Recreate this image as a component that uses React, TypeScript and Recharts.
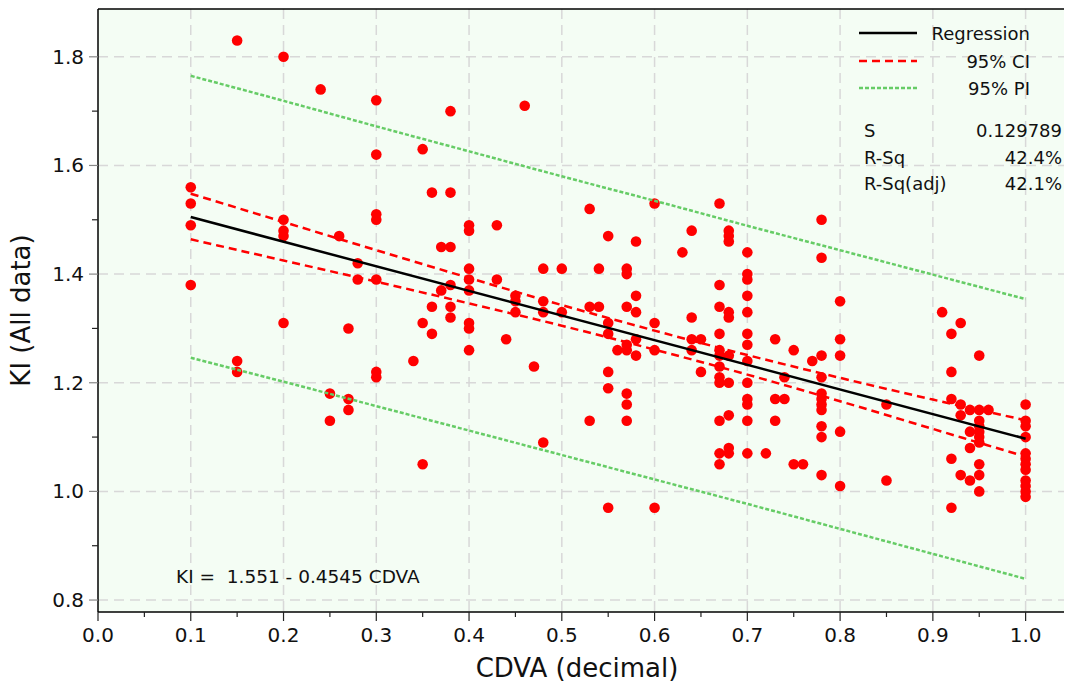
import React from "react";
import {
  ComposedChart,
  Scatter,
  XAxis,
  YAxis,
  CartesianGrid,
  ReferenceLine,
} from "recharts";

// CDVA levels that carry observations, and the KI values seen at each level
const cdvaLevels = [
  0.1, 0.15, 0.2, 0.24, 0.25, 0.26, 0.27, 0.28, 0.3, 0.34, 0.35, 0.36, 0.37,
  0.38, 0.4, 0.43, 0.44, 0.45, 0.46, 0.47, 0.48, 0.5, 0.53, 0.54, 0.55, 0.56,
  0.57, 0.58, 0.6, 0.63, 0.64, 0.65, 0.67, 0.68, 0.7, 0.72, 0.73, 0.74, 0.75,
  0.76, 0.77, 0.78, 0.8, 0.85, 0.91, 0.92, 0.93, 0.94, 0.95, 0.96, 1.0,
];
const kiAtLevel = [
  [1.56, 1.53, 1.49, 1.38],
  [1.83, 1.24, 1.22],
  [1.8, 1.5, 1.48, 1.47, 1.31],
  [1.74],
  [1.18, 1.13],
  [1.47],
  [1.3, 1.17, 1.15],
  [1.42, 1.39],
  [1.72, 1.62, 1.51, 1.5, 1.39, 1.22, 1.21],
  [1.24],
  [1.63, 1.31, 1.05],
  [1.55, 1.34, 1.29],
  [1.45, 1.37],
  [1.7, 1.55, 1.45, 1.38, 1.34, 1.32],
  [1.49, 1.48, 1.41, 1.39, 1.37, 1.31, 1.3, 1.26],
  [1.49, 1.39],
  [1.28],
  [1.36, 1.35, 1.33],
  [1.71],
  [1.23],
  [1.41, 1.35, 1.33, 1.09],
  [1.41, 1.33],
  [1.52, 1.34, 1.13],
  [1.41, 1.34],
  [1.47, 1.31, 1.29, 1.22, 1.19, 0.97],
  [1.26],
  [1.41, 1.4, 1.34, 1.27, 1.26, 1.18, 1.16, 1.13],
  [1.46, 1.36, 1.33, 1.28, 1.25],
  [1.53, 1.31, 1.26, 0.97],
  [1.44],
  [1.48, 1.32, 1.28, 1.26],
  [1.28, 1.22],
  [1.53, 1.38, 1.34, 1.29, 1.26, 1.25, 1.23, 1.21, 1.2, 1.13, 1.07, 1.05],
  [1.48, 1.47, 1.46, 1.33, 1.32, 1.25, 1.2, 1.14, 1.08, 1.07],
  [1.44, 1.4, 1.39, 1.36, 1.33, 1.29, 1.27, 1.24, 1.2, 1.17, 1.16, 1.13, 1.07],
  [1.07],
  [1.28, 1.17, 1.13],
  [1.21, 1.17],
  [1.26, 1.05],
  [1.05],
  [1.24],
  [1.5, 1.43, 1.25, 1.21, 1.18, 1.17, 1.16, 1.15, 1.12, 1.1, 1.03],
  [1.35, 1.28, 1.25, 1.11, 1.01],
  [1.16, 1.02],
  [1.33],
  [1.29, 1.22, 1.17, 1.06, 0.97],
  [1.31, 1.16, 1.14, 1.03],
  [1.15, 1.11, 1.08, 1.02],
  [1.25, 1.15, 1.13, 1.12, 1.11, 1.1, 1.09, 1.05, 1.03, 1.0],
  [1.15],
  [1.16, 1.13, 1.12, 1.1, 1.07, 1.06, 1.05, 1.04, 1.02, 1.01, 1.0, 0.99],
];

// fitted line and bands
const regressionX = [0.1, 1.0];
const regressionY = [1.505, 1.097];
const bandX = [0.1, 0.2, 0.3, 0.4, 0.5, 0.6, 0.7, 0.8, 0.9, 1.0];
const ciUpper = [1.548, 1.496, 1.444, 1.393, 1.343, 1.296, 1.251, 1.209, 1.169, 1.131];
const ciLower = [1.464, 1.425, 1.386, 1.346, 1.305, 1.261, 1.215, 1.166, 1.115, 1.064];
const piUpper = [1.765, 1.719, 1.672, 1.626, 1.58, 1.535, 1.489, 1.444, 1.399, 1.354];
const piLower = [1.246, 1.202, 1.157, 1.112, 1.067, 1.022, 0.977, 0.931, 0.885, 0.839];

const xTicks = [
  0, 0.05, 0.1, 0.15, 0.2, 0.25, 0.3, 0.35, 0.4, 0.45, 0.5, 0.55, 0.6, 0.65,
  0.7, 0.75, 0.8, 0.85, 0.9, 0.95, 1.0, 1.05,
];
const yTicks = [0.8, 0.9, 1.0, 1.1, 1.2, 1.3, 1.4, 1.5, 1.6, 1.7, 1.8];
const xGrid = [0.1, 0.2, 0.3, 0.4, 0.5, 0.6, 0.7, 0.8, 0.9, 1.0];
const yGrid = [0.8, 1.0, 1.2, 1.4, 1.6, 1.8];

const X_MAX = 1.05;
const Y_MIN = 0.778;
const Y_MAX = 1.888;

const FONT = "Tahoma, 'DejaVu Sans', Verdana, sans-serif";
const TEXT = "#111";

const points = cdvaLevels.flatMap((x, i) => kiAtLevel[i].map((y) => ({ x, y })));
const zip = (xs: number[], ys: number[]) => xs.map((x, i) => ({ x, y: ys[i] }));

const XTick = (props: any) => {
  const { x, y, payload } = props;
  const v = payload.value as number;
  const major = Math.abs(v * 10 - Math.round(v * 10)) < 1e-6;
  return (
    <g>
      <line x1={x} x2={x} y1={y} y2={y + (major ? 9 : 5)} stroke="#222" strokeWidth={1.2} />
      {major && (
        <text
          x={x}
          y={y + 23}
          textAnchor="middle"
          dominantBaseline="central"
          fontFamily={FONT}
          fontSize={20}
          fill={TEXT}
        >
          {v.toFixed(1)}
        </text>
      )}
    </g>
  );
};

const YTick = (props: any) => {
  const { x, y, payload } = props;
  const v = payload.value as number;
  const major = Math.round(v * 10) % 2 === 0;
  return (
    <g>
      <line
        x1={x - (major ? 9 : 6)}
        x2={x}
        y1={y}
        y2={y}
        stroke={major ? "#888" : "#222"}
        strokeWidth={1.2}
      />
      {major && (
        <text
          x={x - 14}
          y={y}
          textAnchor="end"
          dominantBaseline="central"
          fontFamily={FONT}
          fontSize={20}
          fill={TEXT}
        >
          {v.toFixed(1)}
        </text>
      )}
    </g>
  );
};

const Dot = (p: any) => <circle cx={p.cx} cy={p.cy} r={5.3} fill="#ff0000" />;
const NoDot = () => <g />;

function LegendOverlay() {
  const t = { fontFamily: FONT, fontSize: 18, fill: TEXT, dominantBaseline: "central" as const };
  return (
    <svg
      width={1072}
      height={684}
      style={{ position: "absolute", left: 0, top: 0, pointerEvents: "none" }}
    >
      <line x1={859} x2={917} y1={33} y2={33} stroke="#000" strokeWidth={2.5} />
      <text x={1030} y={33} textAnchor="end" {...t}>Regression</text>
      <line x1={859} x2={917} y1={61} y2={61} stroke="#ff0000" strokeWidth={2.5} strokeDasharray="8 5" />
      <text x={1030} y={61} textAnchor="end" {...t}>95% CI</text>
      <line x1={859} x2={917} y1={88} y2={88} stroke="#66cc66" strokeWidth={2.5} strokeDasharray="4 2" />
      <text x={1030} y={88} textAnchor="end" {...t}>95% PI</text>

      <text x={864} y={130} {...t}>S</text>
      <text x={1062} y={130} textAnchor="end" {...t}>0.129789</text>
      <text x={864} y={157} {...t}>R-Sq</text>
      <text x={1062} y={157} textAnchor="end" {...t}>42.4%</text>
      <text x={864} y={183} {...t}>R-Sq(adj)</text>
      <text x={1062} y={183} textAnchor="end" {...t}>42.1%</text>

      <text x={176} y={576} {...t} fontSize={18.5} style={{ whiteSpace: "pre" }}>
        {"KI =  1.551 - 0.4545 CDVA"}
      </text>
    </svg>
  );
}

export default function App() {
  return (
    <div style={{ position: "relative", width: 1072, height: 684, marginLeft: -8, marginTop: -8 }}>
      <ComposedChart
        width={1072}
        height={684}
        margin={{ top: 9, right: 0, bottom: 0, left: 0 }}
      >
        <CartesianGrid
          fill="#f4fdf4"
          stroke="#d8d8d8"
          strokeWidth={1.5}
          strokeDasharray="10 6"
          horizontalValues={yGrid}
          verticalValues={xGrid}
        />
        <XAxis
          dataKey="x"
          type="number"
          domain={[0, X_MAX]}
          allowDataOverflow
          ticks={xTicks}
          interval={0}
          tickLine={false}
          tickSize={0}
          tickMargin={0}
          tick={<XTick />}
          axisLine={{ stroke: "#000", strokeWidth: 1.5 }}
          height={72}
          label={{
            value: "CDVA (decimal)",
            position: "insideBottom",
            offset: 7,
            dx: -8,
            style: { fontFamily: FONT, fontSize: 26, fill: TEXT },
          }}
        />
        <YAxis
          dataKey="y"
          type="number"
          domain={[Y_MIN, Y_MAX]}
          allowDataOverflow
          ticks={yTicks}
          interval={0}
          tickLine={false}
          tickSize={0}
          tickMargin={0}
          tick={<YTick />}
          axisLine={{ stroke: "#000", strokeWidth: 1.5 }}
          width={98}
          label={{
            value: "KI (All data)",
            angle: -90,
            position: "insideLeft",
            offset: 21,
            style: { fontFamily: FONT, fontSize: 26, fill: TEXT, textAnchor: "middle" },
          }}
        />
        <ReferenceLine y={Y_MAX} stroke="#000" strokeWidth={1.5} />

        <Scatter data={points} shape={Dot} isAnimationActive={false} />
        <Scatter
          data={zip(bandX, piUpper)}
          shape={NoDot}
          line={{ stroke: "#66cc66", strokeWidth: 2.5, strokeDasharray: "4 2" }}
          lineJointType="monotoneX"
          isAnimationActive={false}
        />
        <Scatter
          data={zip(bandX, piLower)}
          shape={NoDot}
          line={{ stroke: "#66cc66", strokeWidth: 2.5, strokeDasharray: "4 2" }}
          lineJointType="monotoneX"
          isAnimationActive={false}
        />
        <Scatter
          data={zip(bandX, ciUpper)}
          shape={NoDot}
          line={{ stroke: "#ff0000", strokeWidth: 2.5, strokeDasharray: "8 5" }}
          lineJointType="monotoneX"
          isAnimationActive={false}
        />
        <Scatter
          data={zip(bandX, ciLower)}
          shape={NoDot}
          line={{ stroke: "#ff0000", strokeWidth: 2.5, strokeDasharray: "8 5" }}
          lineJointType="monotoneX"
          isAnimationActive={false}
        />
        <Scatter
          data={zip(regressionX, regressionY)}
          shape={NoDot}
          line={{ stroke: "#000", strokeWidth: 2.5 }}
          isAnimationActive={false}
        />
      </ComposedChart>
      <LegendOverlay />
    </div>
  );
}
